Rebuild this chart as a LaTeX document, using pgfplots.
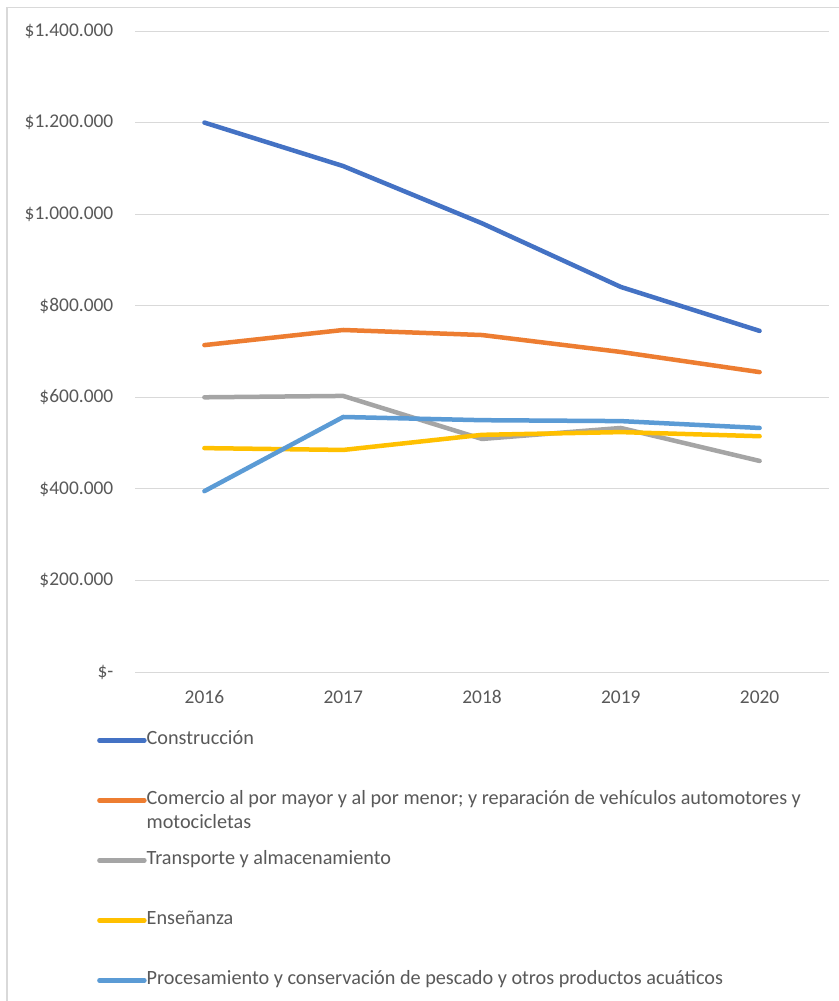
\documentclass[border=0pt]{standalone}
\usepackage{fontspec}
\setmainfont{Carlito}
\usepackage{pgfplots}
\pgfplotsset{compat=1.18}

\definecolor{cBlue}{HTML}{4472C4}
\definecolor{cOrange}{HTML}{ED7D31}
\definecolor{cGray}{HTML}{A5A5A5}
\definecolor{cYellow}{HTML}{FFC000}
\definecolor{cLight}{HTML}{5B9BD5}
\definecolor{gridc}{HTML}{D9D9D9}
\definecolor{txt}{HTML}{595959}

\begin{document}
\fontsize{19.5}{24}\selectfont
\begin{tikzpicture}
  \useasboundingbox (0bp,0bp) rectangle (839bp,-1001bp);
  \fill[white] (0bp,0bp) rectangle (839bp,-1001bp);
  \draw[gridc, line width=1.5bp] (7bp,-1001bp) -- (7bp,-7.5bp) -- (839bp,-7.5bp);
  \begin{axis}[
      at={(135bp,-672bp)}, anchor=south west,
      scale only axis, width=694bp, height=641bp,
      xmin=0.5, xmax=5.5,
      ymin=0, ymax=1400000,
      axis line style={draw=none},
      major tick length=0pt,
      ymajorgrids,
      grid style={gridc, line width=1bp},
      xtick={1,2,3,4,5},
      xticklabels={2016,2017,2018,2019,2020},
      ytick={0,200000,400000,600000,800000,1000000,1200000,1400000},
      yticklabels={\$-\hspace{10bp},\$200.000,\$400.000,\$600.000,\$800.000,\$1.000.000,\$1.200.000,\$1.400.000},
      tick label style={font=\fontsize{19.5}{24}\selectfont, text=txt},
      xticklabel style={yshift=-12bp},
      yticklabel style={xshift=-15bp},
      scaled y ticks=false,
      every axis plot/.append style={line width=4.5bp, line join=round, line cap=round},
      legend style={at={(-0.0548,-0.0915)}, anchor=north west, draw=none, fill=none,
        inner sep=0pt, row sep=41bp, font=\fontsize{20.3}{24}\selectfont, text=txt,
        nodes={inner ysep=0pt, inner xsep=0bp, text height=14bp, text depth=5bp}},
      legend cell align=left,
      legend image code/.code={\draw[#1, line cap=round] (0bp,0bp) -- (45bp,0bp);},
    ]
    \addplot[cBlue] coordinates {(1,1200000) (2,1105000) (3,980000) (4,841000) (5,745000)};
    \addlegendentry{Construcción}
    \addplot[cOrange] coordinates {(1,714000) (2,747000) (3,736000) (4,699000) (5,655000)};
    \addlegendentry{\begin{tabular}[t]{@{}l@{}}Comercio al por mayor y al por menor; y reparación de vehículos automotores y\\motocicletas\end{tabular}}
    \addplot[cGray] coordinates {(1,600000) (2,603000) (3,509000) (4,533000) (5,461000)};
    \addlegendentry{Transporte y almacenamiento}
    \addplot[cYellow] coordinates {(1,489000) (2,485000) (3,518000) (4,524000) (5,515000)};
    \addlegendentry{Enseñanza}
    \addplot[cLight] coordinates {(1,395000) (2,557000) (3,550000) (4,548000) (5,533000)};
    \addlegendentry{Procesamiento y conservación de pescado y otros productos acuáticos}
  \end{axis}
\end{tikzpicture}
\end{document}
